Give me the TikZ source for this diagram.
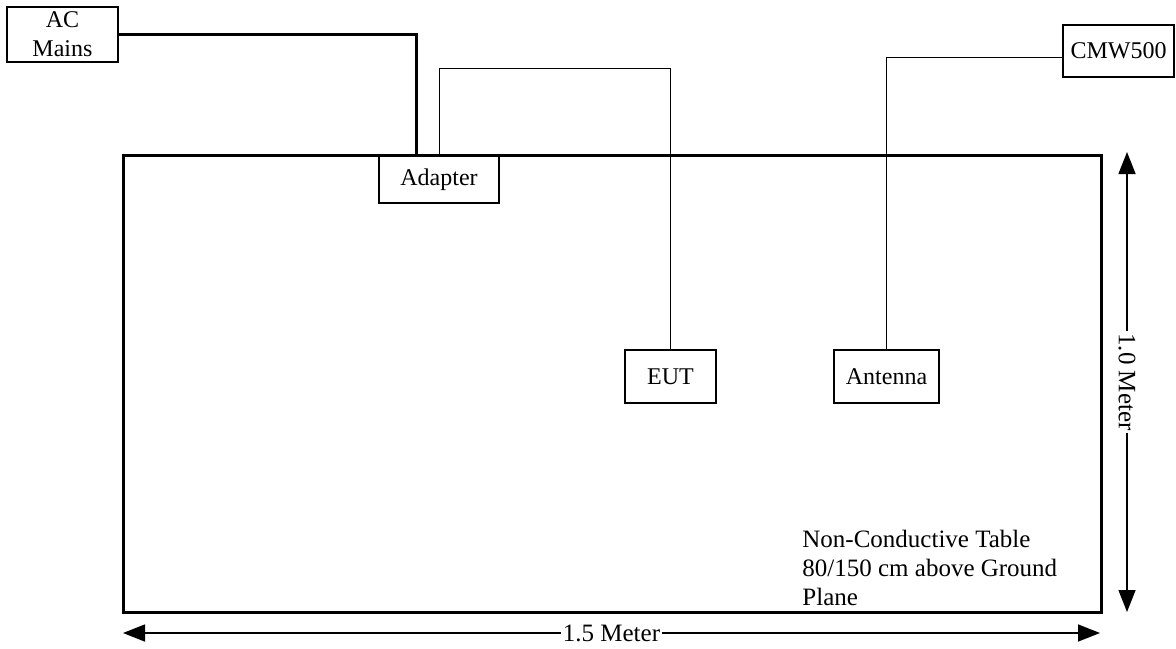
\documentclass[tikz,border=0pt]{standalone}
\usepackage{fontspec}
\setmainfont{Liberation Serif}
\usetikzlibrary{arrows.meta}
\usetikzlibrary{positioning}

\begin{document}
\begin{tikzpicture}[x=0.5pt, y=-0.5pt,
    box/.style={draw, line width=0.75pt, inner sep=0pt, align=center, font=\fontsize{12}{14.5}\selectfont},
    wire/.style={line width=0.5pt},
    mains/.style={line width=1.5pt},
    dim/.style={line width=0.75pt, {Triangle[length=11pt, width=8.5pt]}-{Triangle[length=11pt, width=8.5pt]}},
    dimlabel/.style={fill=white, inner sep=1pt, font=\fontsize{12.5}{14.5}\selectfont}]
  \useasboundingbox (0, 0) rectangle (1176, 648);

  \node[draw, line width=1.5pt, inner sep=0pt, minimum width=489pt, minimum height=228.5pt] (table) at (612, 383.5) {};

  \node[box, minimum width=55.5pt, minimum height=27.5pt] (acmains) at (62.5, 34.5) {AC\\Mains};
  \node[box, minimum width=60pt, minimum height=23.5pt] (adapter) at (439, 179.5) {Adapter};
  \node[box, minimum width=45.5pt, minimum height=26.5pt] (eut) at (670.5, 376.5) {EUT};
  \node[box, minimum width=52.5pt, minimum height=26.5pt] (antenna) at (886.5, 376.5) {Antenna};
  \node[box, minimum width=55.5pt, minimum height=26pt] (cmw) at (1118.5, 51) {CMW500};

  \coordinate (feed) at (416, 155);
  \draw[mains] (acmains.east) -| (feed);
  \draw[wire] (adapter.north) -- ++(0, -87) -| (eut.north);
  \draw[wire] (antenna.north) |- ([yshift=-3pt]cmw.west);

  \node[anchor=north west, align=left, inner sep=0pt, font=\fontsize{12.5}{14.5}\selectfont] (note) at (802, 530)
    {Non-Conductive Table\\80/150 cm above Ground\\Plane};

  \draw[dim] (123, 633) -- node[dimlabel] (width) {1.5 Meter} (1100, 633);
  \draw[dim] (1127, 152) -- node[dimlabel, rotate=-90] (depth) {1.0 Meter} (1127, 612);
\end{tikzpicture}
\end{document}
